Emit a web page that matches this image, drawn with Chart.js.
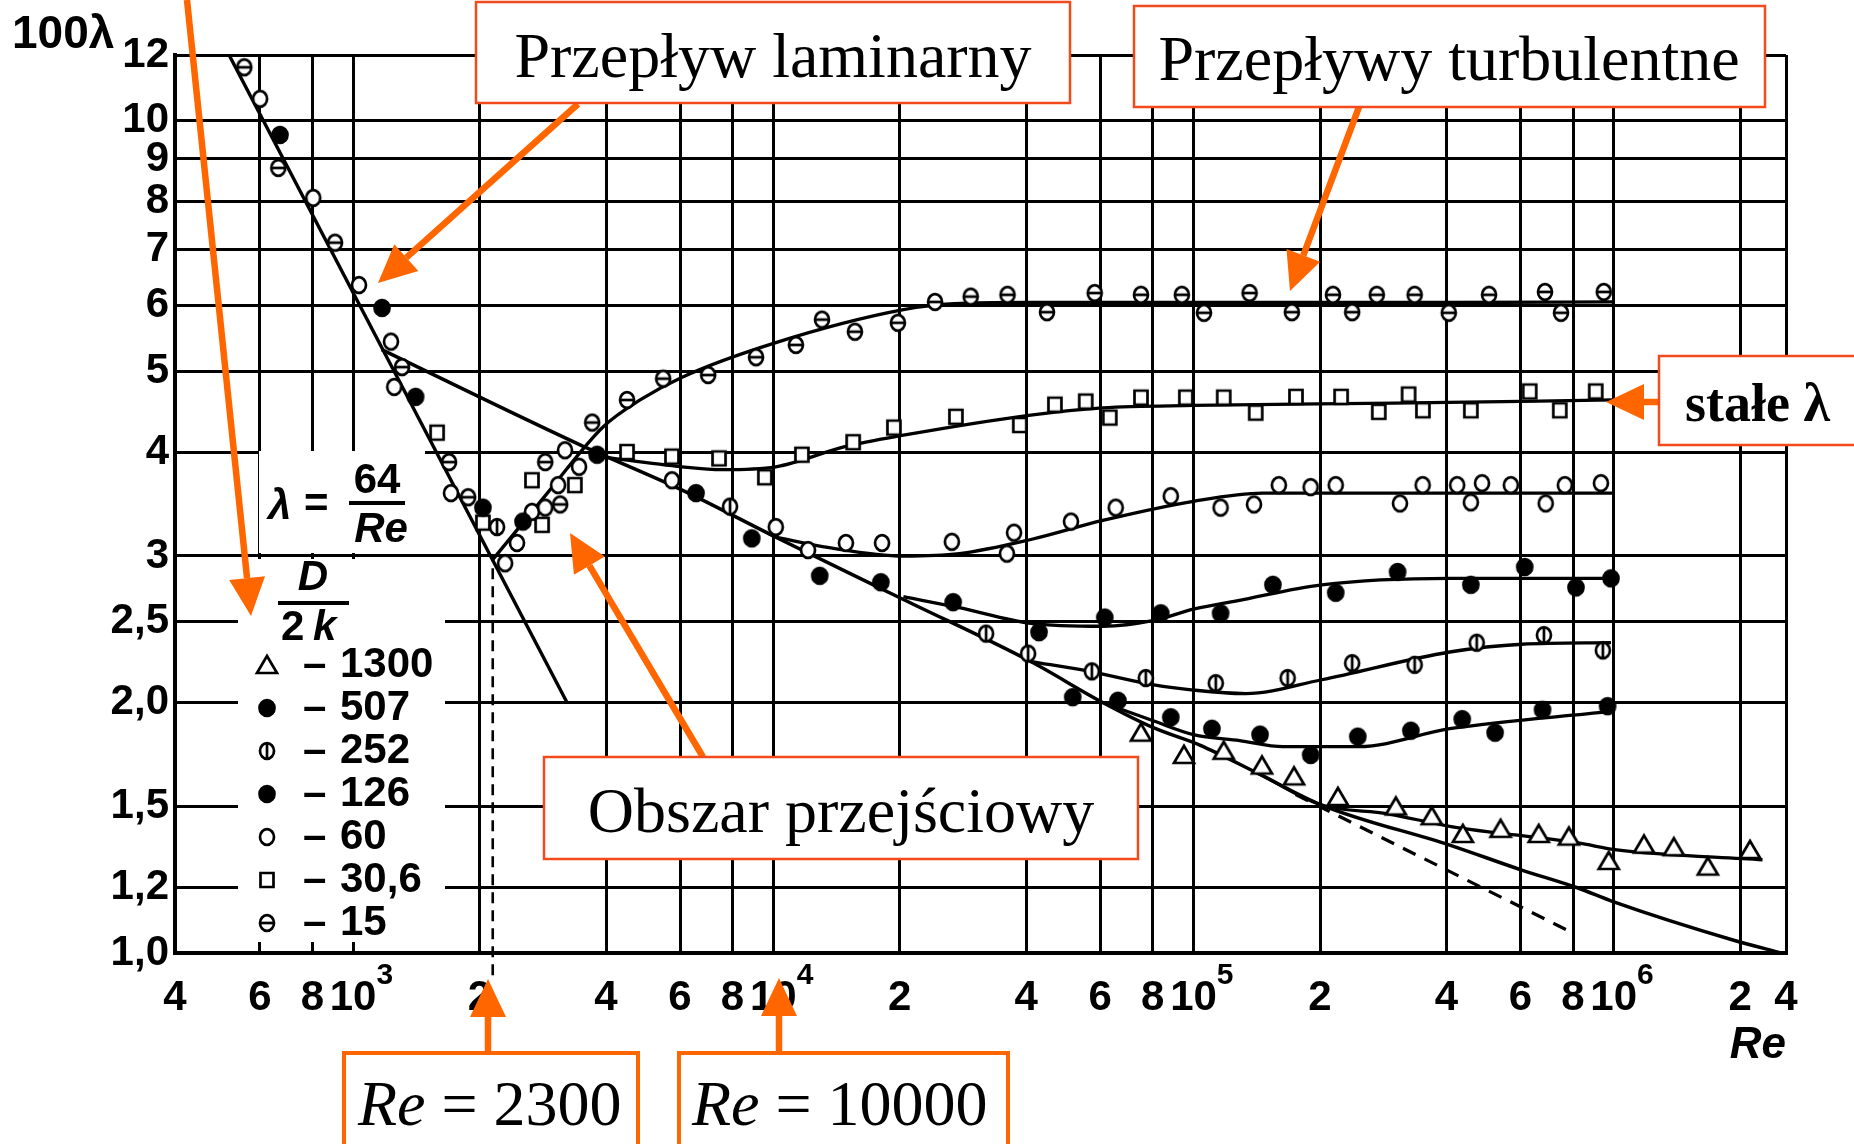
<!DOCTYPE html>
<html>
<head>
<meta charset="utf-8">
<script src="https://cdn.jsdelivr.net/npm/chart.js@4.4.1/dist/chart.umd.min.js"></script>
<style>
  html, body { margin: 0; padding: 0; background: #fff; }
  #wrap { width: 1854px; height: 1144px; position: relative; }
</style>
</head>
<body>
<div id="wrap"><canvas id="canva1"></canvas></div>
<script>
// axis ticks
var reTicks = [377, 600, 800, 1e3, 2e3, 4e3, 6e3, 8e3, 1e4, 2e4, 4e4, 6e4, 8e4, 1e5, 2e5, 4e5, 6e5, 8e5, 1e6, 2e6, 2.57e6];
var reLabels = ['4', '6', '8', '10', '2', '4', '6', '8', '10', '2', '4', '6', '8', '10', '2', '4', '6', '8', '10', '2', '4'];
var reExponents = ['', '', '', '3', '', '', '', '', '4', '', '', '', '', '5', '', '', '', '', '6', '', ''];
var lamTicks = [1, 1.2, 1.5, 2, 2.5, 3, 4, 5, 6, 7, 8, 9, 10, 12];
var lamLabels = ['1,0', '1,2', '1,5', '2,0', '2,5', '3', '4', '5', '6', '7', '8', '9', '10', '12'];

// measured points [Re, 100*lambda], one array per D/2k
var pts1300 = [[75000, 1.84], [94900, 1.73], [118000, 1.75], [145500, 1.68], [173500, 1.63], [220600, 1.54],
  [303000, 1.50], [369000, 1.46], [437500, 1.39], [538000, 1.41], [663000, 1.39], [782000, 1.38],
  [973000, 1.29], [1180000, 1.35], [1390000, 1.34], [1675000, 1.27], [2110000, 1.33]];
var pts507 = [[670, 9.62], [1409, 4.66], [2537, 3.30], [6550, 3.57], [12900, 2.84], [51600, 2.03], [66100, 2.01],
  [88300, 1.92], [110600, 1.86], [144000, 1.83], [190000, 1.73], [246000, 1.82], [329000, 1.85],
  [436000, 1.91], [522000, 1.84], [677000, 1.96], [967000, 1.98]];
var pts252 = [[2201, 3.25], [7890, 3.44], [32100, 2.42], [40400, 2.29], [57300, 2.18], [77000, 2.14], [113000, 2.11],
  [167500, 2.14], [238500, 2.23], [336000, 2.22], [472000, 2.36], [682000, 2.41], [942000, 2.31]];
var pts126 = [[1172, 5.96], [2037, 3.43], [3808, 3.97], [8890, 3.15], [18030, 2.79], [26800, 2.64], [42900, 2.43],
  [61500, 2.53], [83600, 2.56], [116000, 2.56], [154500, 2.77], [218000, 2.71], [306000, 2.87],
  [457000, 2.77], [614000, 2.91], [813000, 2.75], [985000, 2.82]];
var pts60 = [[601, 10.63], [804, 8.08], [1033, 6.35], [1231, 5.43], [1253, 4.79], [1710, 3.57], [2301, 2.94],
  [2455, 3.11], [2666, 3.39], [2866, 3.43], [3076, 3.65], [3194, 4.02], [3450, 3.84], [5740, 3.70],
  [10140, 3.25], [12100, 3.05], [14890, 3.11], [18150, 3.11], [26600, 3.12], [35970, 3.02], [37400, 3.20],
  [51100, 3.30], [65300, 3.43], [88300, 3.54], [116000, 3.43], [139300, 3.46], [159600, 3.65],
  [190000, 3.63], [218000, 3.65], [310000, 3.47], [351000, 3.65], [424000, 3.65], [457000, 3.48],
  [486000, 3.67], [569000, 3.65], [689000, 3.47], [765000, 3.65], [932000, 3.67]];
var pts30 = [[1585, 4.22], [2037, 3.29], [2666, 3.70], [2818, 3.27], [3372, 3.65], [4487, 4.00], [5740, 3.95],
  [7430, 3.93], [9550, 3.73], [11700, 3.97], [15490, 4.11], [19370, 4.28], [27200, 4.41], [38600, 4.31],
  [46800, 4.56], [55400, 4.60], [63200, 4.40], [75000, 4.65], [95900, 4.65], [118000, 4.65],
  [140600, 4.46], [175300, 4.66], [224500, 4.66], [276000, 4.47], [325000, 4.69], [351500, 4.49],
  [457000, 4.49], [631000, 4.73], [744000, 4.49], [906000, 4.73]];
var pts15 = [[551, 11.6], [664, 8.78], [906, 7.14], [1308, 5.06], [1692, 3.89], [1879, 3.53], [2866, 3.89],
  [3111, 3.46], [3707, 4.34], [4487, 4.62], [5470, 4.90], [7000, 4.95], [9100, 5.20], [11320, 5.38],
  [13060, 5.77], [15640, 5.58], [19800, 5.72], [24260, 6.06], [29500, 6.15], [36100, 6.18], [44800, 5.89],
  [58200, 6.21], [75000, 6.18], [93800, 6.18], [105900, 5.88], [136000, 6.21], [171400, 5.89],
  [214700, 6.18], [238500, 5.89], [273000, 6.18], [336000, 6.18], [405000, 5.88], [505000, 6.18],
  [686000, 6.23], [749000, 5.88], [947000, 6.23]];

// drawn curves
var laminar = [[507, 12.0], [3230, 2.0]];
var smooth = [[1170, 5.31], [3470, 4.08], [6070, 3.60], [10140, 3.16], [20400, 2.66], [41000, 2.24], [60800, 2.00],
  [80500, 1.864], [103500, 1.778], [142000, 1.645], [201800, 1.506], [407000, 1.348], [604000, 1.258],
  [822000, 1.197], [1000000, 1.152], [1930000, 1.036], [2510000, 1.0]];
var blasius = [[175000, 1.55], [773000, 1.066]];
var curve15 = [[2150, 2.97], [2900, 3.57], [3940, 4.29], [4820, 4.62], [6070, 4.92], [10100, 5.41], [20400, 5.93],
  [27000, 6.03], [40000, 6.05], [100000, 6.05], [400000, 6.05], [1000000, 6.06]];
var curve30 = [[3875, 3.95], [6070, 3.84], [7550, 3.81], [10140, 3.84], [14800, 4.06], [20400, 4.19], [41000, 4.43],
  [60800, 4.52], [100000, 4.55], [300000, 4.58], [1000000, 4.62]];
var curve60 = [[10140, 3.16], [13590, 3.07], [20400, 3.00], [27700, 3.02], [41000, 3.14], [60800, 3.31],
  [100000, 3.49], [146000, 3.57], [201800, 3.57], [1000000, 3.57]];
var curve126 = [[20400, 2.68], [27700, 2.60], [41000, 2.49], [60800, 2.47], [80500, 2.51], [100000, 2.59],
  [126800, 2.65], [201800, 2.77], [407000, 2.82], [1000000, 2.82]];
var curve252 = [[41000, 2.24], [56600, 2.18], [80500, 2.10], [100000, 2.07], [133000, 2.05], [201800, 2.13],
  [407000, 2.30], [604000, 2.35], [985000, 2.36]];
var curve507 = [[60800, 2.0], [80500, 1.90], [100000, 1.83], [128800, 1.80], [163300, 1.77], [247800, 1.77],
  [407000, 1.86], [973000, 1.95]];
var curve1300 = [[142000, 1.645], [201800, 1.506], [290000, 1.47], [407000, 1.42], [822000, 1.356],
  [1017000, 1.33], [2260000, 1.294]];
var reCrit = [[2150, 0.94], [2150, 2.97]];

var ORANGE = '#ff6600';
var RED = '#f24a1c';
var SANS = '"Liberation Sans"';

function xy(arr) {
  return arr.map(function (p) { return { x: p[0], y: p[1] }; });
}

function drawSym(g, kind, x, y) {
  g.save();
  g.strokeStyle = '#000';
  g.fillStyle = '#fff';
  g.lineWidth = 2.7;
  g.beginPath();
  if (kind === 'tri') {
    g.moveTo(x, y - 9);
    g.lineTo(x + 10, y + 8);
    g.lineTo(x - 10, y + 8);
    g.closePath();
    g.fill(); g.stroke();
  } else if (kind === 'sq') {
    g.rect(x - 6.5, y - 7, 13, 14);
    g.fill(); g.stroke();
  } else if (kind === 'dot') {
    g.ellipse(x, y, 7.5, 8, 0, 0, Math.PI * 2);
    g.fillStyle = '#000';
    g.fill(); g.stroke();
  } else {
    g.ellipse(x, y, 7, 7.8, 0, 0, Math.PI * 2);
    g.fill(); g.stroke();
    g.beginPath();
    if (kind === 'hbar') { g.moveTo(x - 7, y); g.lineTo(x + 7, y); }
    if (kind === 'vbar') { g.moveTo(x, y - 8); g.lineTo(x, y + 8); }
    g.stroke();
  }
  g.restore();
}

function symCanvas(kind) {
  var c = document.createElement('canvas');
  c.width = 26; c.height = 26;
  drawSym(c.getContext('2d'), kind, 13, 13);
  return c;
}

function markers(kind, pts) {
  return { data: xy(pts), showLine: false, pointStyle: symCanvas(kind), pointRadius: 9, pointHoverRadius: 9 };
}

function curve(pts, width, extra) {
  var ds = { data: xy(pts), showLine: true, pointRadius: 0, pointHoverRadius: 0, borderColor: '#000',
    borderWidth: width, cubicInterpolationMode: 'monotone', fill: false };
  for (var k in extra) ds[k] = extra[k];
  return ds;
}

function arrow(ctx, x0, y0, x1, y1) {
  var a = Math.atan2(y1 - y0, x1 - x0), hl = 38, hw = 18;
  var bx = x1 - hl * Math.cos(a), by = y1 - hl * Math.sin(a);
  ctx.strokeStyle = ORANGE;
  ctx.fillStyle = ORANGE;
  ctx.lineWidth = 6.5;
  ctx.beginPath();
  ctx.moveTo(x0, y0);
  ctx.lineTo(bx, by);
  ctx.stroke();
  ctx.beginPath();
  ctx.moveTo(x1, y1);
  ctx.lineTo(bx + hw * Math.sin(a), by - hw * Math.cos(a));
  ctx.lineTo(bx - hw * Math.sin(a), by + hw * Math.cos(a));
  ctx.closePath();
  ctx.fill();
}

function box(ctx, x, y, w, h, color, lw) {
  ctx.fillStyle = '#fff';
  ctx.fillRect(x, y, w, h);
  ctx.strokeStyle = color;
  ctx.lineWidth = lw;
  ctx.strokeRect(x, y, w, h);
}

var legendRows = [['tri', '1300'], ['dot', '507'], ['vbar', '252'], ['dot', '126'], ['open', '60'], ['sq', '30,6'], ['hbar', '15']];

var decor = {
  id: 'decor',
  beforeDatasetsDraw: function (chart) {
    var ctx = chart.ctx;
    ctx.save();
    ctx.fillStyle = '#fff';
    ctx.fillRect(259, 451, 166, 102);
    ctx.fillRect(238, 559, 207, 383);
    ctx.restore();
  },
  afterDraw: function (chart) {
    var ctx = chart.ctx;
    var xs = chart.scales.x;
    ctx.save();
    ctx.fillStyle = '#000';

    // decade exponents on the Re axis
    ctx.textAlign = 'left';
    ctx.textBaseline = 'top';
    ctx.font = 'bold 42px ' + SANS;
    var half = ctx.measureText('10').width / 2;
    ctx.font = 'bold 30px ' + SANS;
    reTicks.forEach(function (v, i) {
      if (reExponents[i]) ctx.fillText(reExponents[i], xs.getPixelForValue(v) + half, 961);
    });

    ctx.textBaseline = 'middle';
    // axis name
    ctx.font = 'bold 46px ' + SANS;
    ctx.fillText('100λ', 12, 35);

    // formula
    ctx.font = 'italic bold 42px ' + SANS;
    ctx.fillText('λ', 268, 507);
    ctx.font = 'bold 42px ' + SANS;
    ctx.fillText('=', 304, 505);
    ctx.textAlign = 'center';
    ctx.fillText('64', 377, 481);
    ctx.font = 'italic bold 42px ' + SANS;
    ctx.fillText('Re', 381, 530);
    ctx.fillRect(349, 501, 56, 4);

    // roughness legend
    ctx.fillText('D', 313, 578);
    ctx.fillRect(278, 601, 71, 4);
    ctx.font = 'bold 42px ' + SANS;
    ctx.textAlign = 'left';
    ctx.fillText('2', 281, 628);
    ctx.font = 'italic bold 42px ' + SANS;
    ctx.fillText('k', 313, 628);
    ctx.font = 'bold 42px ' + SANS;
    var rowY = [665, 708, 751, 794, 837, 880, 923];
    legendRows.forEach(function (r, i) {
      drawSym(ctx, r[0], 267, rowY[i]);
      ctx.fillStyle = '#000';
      ctx.fillText('–', 303, rowY[i]);
      ctx.fillText(r[1], 340, rowY[i]);
    });

    // arrows
    arrow(ctx, 187, 0, 251, 616);
    arrow(ctx, 578, 104, 378, 283);
    arrow(ctx, 1359, 107, 1290, 291);
    arrow(ctx, 1660, 402, 1606, 402);
    arrow(ctx, 703, 757, 570, 533);
    arrow(ctx, 488, 1054, 488, 979);
    arrow(ctx, 779, 1054, 779, 978);

    // boxes
    box(ctx, 476, 2, 594, 101, RED, 2.5);
    box(ctx, 1134, 6, 631, 101, RED, 2.5);
    box(ctx, 1659, 356, 220, 89, RED, 2.5);
    box(ctx, 544, 757, 594, 102, RED, 2.5);
    box(ctx, 344, 1053, 294, 120, ORANGE, 4);
    box(ctx, 679, 1053, 329, 120, ORANGE, 4);

    ctx.fillStyle = '#000';
    ctx.textBaseline = 'alphabetic';
    ctx.textAlign = 'center';
    ctx.font = '64px "Liberation Serif"';
    ctx.fillText('Przepływ laminarny', 773, 77);
    ctx.fillText('Przepływy turbulentne', 1449, 80);
    ctx.fillText('Obszar przejściowy', 841, 832);
    ctx.textAlign = 'left';
    ctx.font = 'bold 54px "Liberation Serif"';
    ctx.fillText('stałe λ', 1685, 421);

    function reText(x, rest) {
      ctx.font = 'italic 64px "Liberation Serif"';
      ctx.fillText('Re', x, 1125);
      var w = ctx.measureText('Re').width;
      ctx.font = '64px "Liberation Serif"';
      ctx.fillText(rest, x + w, 1125);
    }
    reText(358, ' = 2300');
    reText(692, ' = 10000');
    ctx.restore();
  }
};

var ctx = document.getElementById('canva1').getContext('2d');
var myChart = new Chart(ctx, {
  type: 'scatter',
  data: {
    datasets: [
      markers('tri', pts1300),
      markers('dot', pts507),
      markers('vbar', pts252),
      markers('dot', pts126),
      markers('open', pts60),
      markers('sq', pts30),
      markers('hbar', pts15),
      curve(laminar, 3.4, { tension: 0, cubicInterpolationMode: 'default' }),
      curve(smooth, 3.5, {}),
      curve(blasius, 3.2, { tension: 0, cubicInterpolationMode: 'default', borderDash: [14, 10] }),
      curve(curve15, 3.3, {}),
      curve(curve30, 3.3, {}),
      curve(curve60, 3.3, {}),
      curve(curve126, 3.3, {}),
      curve(curve252, 3.3, {}),
      curve(curve507, 3.3, {}),
      curve(curve1300, 3.3, {}),
      curve(reCrit, 2.6, { tension: 0, cubicInterpolationMode: 'default', borderDash: [11, 7], clip: false })
    ]
  },
  options: {
    responsive: true,
    maintainAspectRatio: false,
    animation: false,
    layout: { padding: { top: 55, right: 68, bottom: 75, left: 0 } },
    plugins: { legend: { display: false }, tooltip: { enabled: false } },
    scales: {
      x: {
        type: 'logarithmic',
        min: 377,
        max: 2.57e6,
        afterBuildTicks: function (s) { s.ticks = reTicks.map(function (v) { return { value: v }; }); },
        afterFit: function (s) { s.height = 116; },
        ticks: {
          callback: function (v, i) { return reLabels[i]; },
          autoSkip: false, maxRotation: 0, minRotation: 0, padding: 20,
          color: '#000', font: { family: 'Liberation Sans', weight: 'bold', size: 42 }
        },
        grid: { color: '#000', lineWidth: 3, drawTicks: false },
        border: { color: '#000', width: 4 },
        title: {
          display: true, text: 'Re', align: 'end', color: '#000', padding: { top: 0, bottom: -3 },
          font: { family: 'Liberation Sans', weight: 'bold', style: 'italic', size: 44 }
        }
      },
      y: {
        type: 'logarithmic',
        min: 1,
        max: 12,
        afterBuildTicks: function (s) { s.ticks = lamTicks.map(function (v) { return { value: v }; }); },
        afterFit: function (s) { s.width = 175; },
        ticks: {
          callback: function (v, i) { return lamLabels[i]; },
          autoSkip: false, padding: 6,
          color: '#000', font: { family: 'Liberation Sans', weight: 'bold', size: 42 }
        },
        grid: { color: '#000', lineWidth: 3, drawTicks: false },
        border: { color: '#000', width: 4 }
      }
    }
  },
  plugins: [decor]
});
</script>
</body>
</html>
